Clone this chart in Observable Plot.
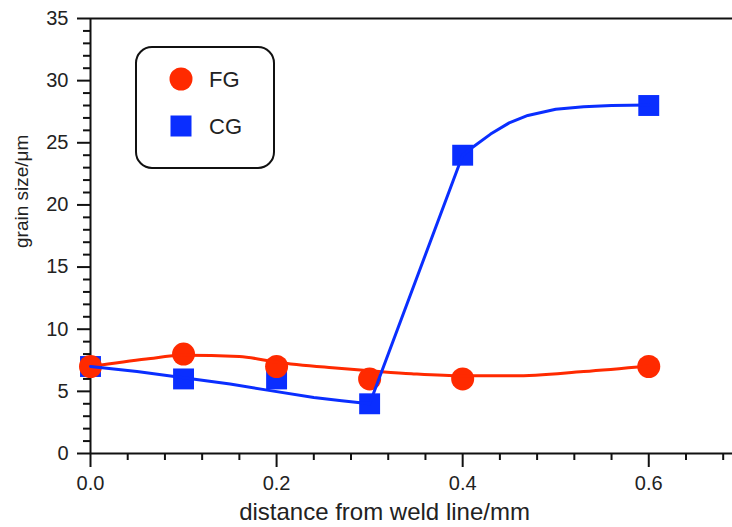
<!DOCTYPE html>
<html>
<head>
<meta charset="utf-8">
<script src="https://cdn.jsdelivr.net/npm/d3@7"></script>
<script src="https://cdn.jsdelivr.net/npm/@observablehq/plot@0.6"></script>
<style>
  html, body { margin: 0; padding: 0; background: #fff; }
  #wrap { position: relative; width: 732px; height: 527px; font-family: "Liberation Sans", Arial, sans-serif; }
  #legend { position: absolute; left: 0; top: 0; pointer-events: none; }
</style>
</head>
<body>
<div id="wrap"></div>
<script>
// ---- data ----
const distances = [0, 0.1, 0.2, 0.3, 0.4, 0.6];
const fgValues = [7, 8, 7, 6, 6, 7];
const cgValues = [7, 6, 6, 4, 24, 28];

// fitted curves as drawn in the reference
const fgCurveX = [0, 0.06, 0.1, 0.16, 0.2, 0.26, 0.31, 0.345, 0.4, 0.455, 0.53, 0.6];
const fgCurveY = [7, 7.6, 7.9, 7.8, 7.35, 6.9, 6.6, 6.42, 6.25, 6.25, 6.6, 7.05];
const cgCurveX = [0, 0.05, 0.1, 0.15, 0.19, 0.24, 0.27, 0.3, 0.4, 0.41, 0.43, 0.45, 0.47, 0.5, 0.53, 0.56, 0.6];
const cgCurveY = [7, 6.6, 6.1, 5.6, 5.1, 4.5, 4.25, 4.0, 24, 24.6, 25.7, 26.6, 27.2, 27.7, 27.9, 28.0, 28.05];

const xMajorTicks = [0, 0.2, 0.4, 0.6];
const xMinorTicks = [0.04, 0.08, 0.12, 0.16, 0.24, 0.28, 0.32, 0.36, 0.44, 0.48, 0.52, 0.56, 0.64, 0.68];
const yMajorTicks = [0, 5, 10, 15, 20, 25, 30, 35];
const yMinorTicks = [1,2,3,4,6,7,8,9,11,12,13,14,16,17,18,19,21,22,23,24,26,27,28,29,31,32,33,34];

const seriesNames = ["FG", "CG"];
const xTitle = "distance from weld line/mm";
const yTitle = "grain size/\u03bcm";

const RED = "#ff2a00";
const BLUE = "#0a2eff";
const INK = "#111";
const FONT = '"Liberation Sans", Arial, sans-serif';

const fg = distances.map((d, i) => ({x: d, y: fgValues[i]}));
const cg = distances.map((d, i) => ({x: d, y: cgValues[i]}));
const fgCurve = fgCurveX.map((d, i) => ({x: d, y: fgCurveY[i]}));
const cgCurve = cgCurveX.map((d, i) => ({x: d, y: cgCurveY[i]}));

const chart = Plot.plot({
  width: 732,
  height: 527,
  marginLeft: 90,
  marginRight: 0,
  marginTop: 18,
  marginBottom: 74,
  style: {fontFamily: FONT, color: "#222", background: "#fff", overflow: "visible"},
  x: {domain: [0, 0.69]},
  y: {domain: [0, 35]},
  marks: [
    Plot.axisY(yMinorTicks, {tickSize: 7, strokeWidth: 2, stroke: INK, tickFormat: () => "", label: null}),
    Plot.axisY(yMajorTicks, {tickSize: 13, tickPadding: 9, strokeWidth: 2, stroke: INK, fontSize: 20, tickFormat: d => String(d), label: null}),
    Plot.axisX(xMinorTicks, {tickSize: 7, strokeWidth: 2, stroke: INK, tickFormat: () => "", label: null}),
    Plot.axisX(xMajorTicks, {tickSize: 14, tickPadding: 8, strokeWidth: 2, stroke: INK, fontSize: 20, tickFormat: d3.format(".1f"), label: null}),
    Plot.ruleY([0, 35], {stroke: INK, strokeWidth: 2}),
    Plot.ruleX([0], {stroke: INK, strokeWidth: 2}),
    Plot.text([xTitle], {frameAnchor: "bottom", dy: 59, dx: -27, fontSize: 24, lineAnchor: "middle", textAnchor: "middle", fill: "#222"}),
    Plot.text([yTitle], {frameAnchor: "left", dx: -69, dy: 12, rotate: -90, fontSize: 19, lineAnchor: "middle", textAnchor: "start", fill: "#222"}),
    Plot.dot(cg, {x: "x", y: "y", symbol: "square", r: 11.8, fill: BLUE}),
    Plot.dot(fg, {x: "x", y: "y", symbol: "circle", r: 11.5, fill: RED}),
    Plot.line(fgCurve, {x: "x", y: "y", stroke: RED, strokeWidth: 3, curve: "monotone-x"}),
    Plot.line(cgCurve, {x: "x", y: "y", stroke: BLUE, strokeWidth: 3, curve: "linear"})
  ]
});

const wrap = document.getElementById("wrap");
wrap.appendChild(chart);

// legend box
const ns = "http://www.w3.org/2000/svg";
const lg = document.createElementNS(ns, "svg");
lg.setAttribute("id", "legend");
lg.setAttribute("width", 732);
lg.setAttribute("height", 527);
const box = document.createElementNS(ns, "rect");
box.setAttribute("x", 136); box.setAttribute("y", 47);
box.setAttribute("width", 138); box.setAttribute("height", 121);
box.setAttribute("rx", 16); box.setAttribute("fill", "none");
box.setAttribute("stroke", INK); box.setAttribute("stroke-width", 2);
lg.appendChild(box);
const legendItems = [
  {name: seriesNames[0], color: RED, shape: "circle", cy: 79},
  {name: seriesNames[1], color: BLUE, shape: "square", cy: 126}
];
for (const it of legendItems) {
  let sym;
  if (it.shape === "circle") {
    sym = document.createElementNS(ns, "circle");
    sym.setAttribute("cx", 181); sym.setAttribute("cy", it.cy); sym.setAttribute("r", 11.5);
  } else {
    sym = document.createElementNS(ns, "rect");
    sym.setAttribute("x", 170.5); sym.setAttribute("y", it.cy - 10.5);
    sym.setAttribute("width", 21); sym.setAttribute("height", 21);
  }
  sym.setAttribute("fill", it.color);
  lg.appendChild(sym);
  const t = document.createElementNS(ns, "text");
  t.setAttribute("x", 209); t.setAttribute("y", it.cy);
  t.setAttribute("dy", "0.36em");
  t.setAttribute("font-size", 22);
  t.setAttribute("fill", "#222");
  t.setAttribute("font-family", FONT);
  t.textContent = it.name;
  lg.appendChild(t);
}
wrap.appendChild(lg);
</script>
</body>
</html>
